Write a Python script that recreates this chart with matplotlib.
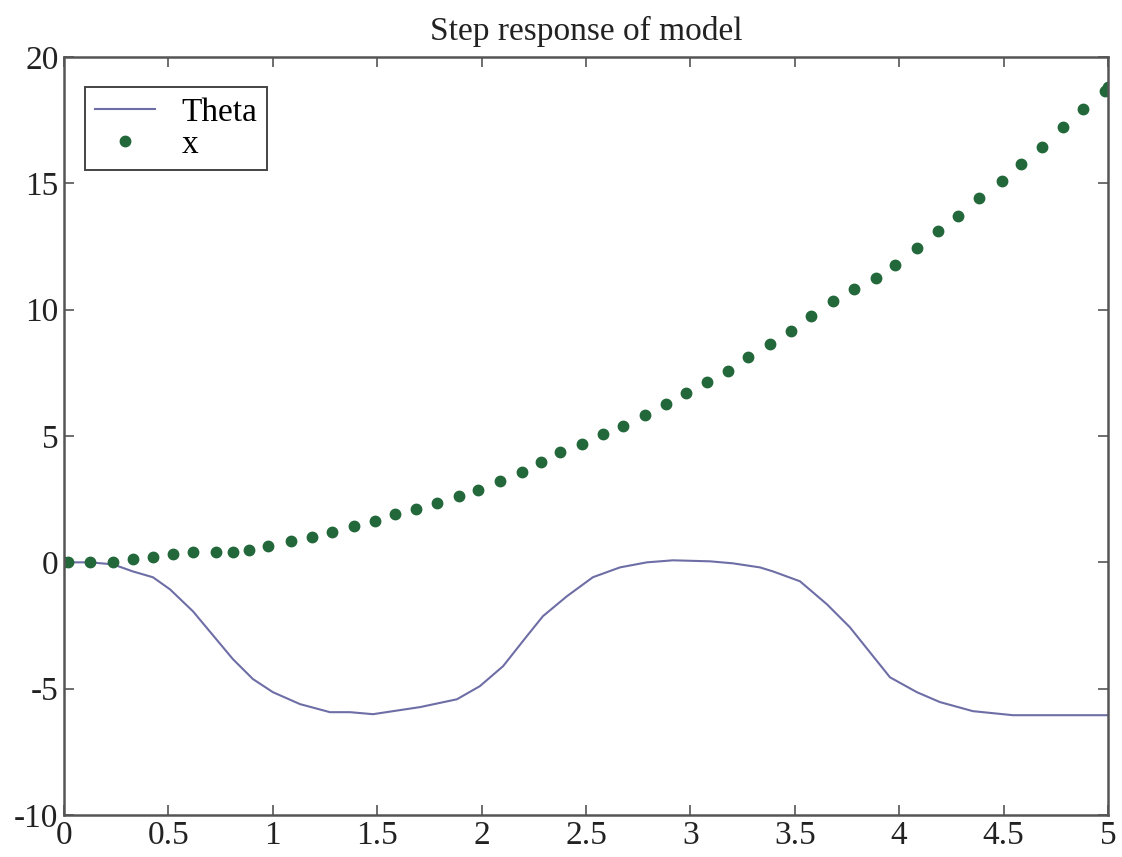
import numpy as np
import matplotlib.pyplot as plt

plt.rcParams['font.family'] = ['Liberation Serif', 'DejaVu Serif']
plt.rcParams['axes.unicode_minus'] = False

# cart position x, sampled at the solver's steps
t_x = [0.0, 0.02, 0.125, 0.235, 0.33, 0.426, 0.522, 0.618, 0.728, 0.809,
       0.886, 0.977, 1.087, 1.188, 1.284, 1.389, 1.489, 1.585, 1.686, 1.786,
       1.892, 1.983, 2.088, 2.193, 2.284, 2.375, 2.481, 2.581, 2.677, 2.783,
       2.883, 2.979, 3.079, 3.180, 3.276, 3.381, 3.482, 3.578, 3.683, 3.784,
       3.889, 3.980, 4.085, 4.186, 4.282, 4.382, 4.492, 4.583, 4.684, 4.784,
       4.880, 4.986, 5.0]
x_pos = [0.0, 0.0, 0.0, 0.0, 0.12, 0.20, 0.32, 0.40, 0.40, 0.40,
         0.47, 0.63, 0.83, 0.99, 1.19, 1.42, 1.62, 1.90, 2.13, 2.33,
         2.61, 2.85, 3.20, 3.56, 3.99, 4.35, 4.70, 5.06, 5.38, 5.85,
         6.28, 6.72, 7.15, 7.59, 8.14, 8.66, 9.17, 9.76, 10.36, 10.83,
         11.26, 11.78, 12.45, 13.12, 13.72, 14.43, 15.10, 15.77, 16.44, 17.23,
         17.94, 18.66, 18.81]

# pendulum angle
t_theta = [0.0, 0.125, 0.235, 0.330, 0.426, 0.508, 0.618, 0.714, 0.809, 0.905,
           1.001, 1.130, 1.274, 1.370, 1.480, 1.576, 1.705, 1.882, 1.992, 2.103,
           2.217, 2.294, 2.409, 2.533, 2.663, 2.792, 2.917, 3.094, 3.204, 3.333,
           3.396, 3.525, 3.654, 3.764, 3.860, 3.956, 4.085, 4.195, 4.353, 4.545,
           5.0]
theta = [0.0, 0.0, -0.08, -0.36, -0.59, -1.07, -1.94, -2.89, -3.83, -4.62,
         -5.14, -5.61, -5.93, -5.93, -6.01, -5.89, -5.73, -5.42, -4.90, -4.11,
         -2.92, -2.13, -1.34, -0.59, -0.20, 0.0, 0.08, 0.04, -0.04, -0.20,
         -0.36, -0.75, -1.66, -2.57, -3.56, -4.55, -5.14, -5.53, -5.89, -6.05,
         -6.05]

fig = plt.figure(figsize=(11.22, 8.57), dpi=100)
ax = fig.add_axes([0.057, 0.049, 0.9305, 0.8845])

ax.plot(t_theta, theta, color='#6e6ea6', linewidth=1.5, label='Theta')
ax.plot(t_x, x_pos, linestyle='none', marker='o', markersize=7.5,
        color='#23683a', label='x')

ax.set_xlim(0, 5)
ax.set_ylim(-10, 20)
ax.set_xticks(np.arange(0, 5.01, 0.5))
ax.set_xticklabels(['0', '0.5', '1', '1.5', '2', '2.5', '3', '3.5', '4', '4.5', '5'])
ax.set_yticks(np.arange(-10, 21, 5))
ax.tick_params(direction='in', top=True, right=True, length=7, width=1.2,
               color='#555555', labelsize=24, pad=4, labelcolor='#222222')
for s in ax.spines.values():
    s.set_color('#555555')
    s.set_linewidth(1.8)

ax.set_title('Step response of model', fontsize=24, pad=12, color='#222222')

leg = ax.legend(loc='upper left', bbox_to_anchor=(0.020, 0.960),
                borderaxespad=0, numpoints=1, fontsize=24, fancybox=False,
                framealpha=1, handlelength=1.8, handletextpad=0.8,
                borderpad=0.3, labelspacing=0.05)
leg.get_frame().set_edgecolor('#444444')
leg.get_frame().set_linewidth(1.4)

fig.savefig('out.png', dpi=100)
